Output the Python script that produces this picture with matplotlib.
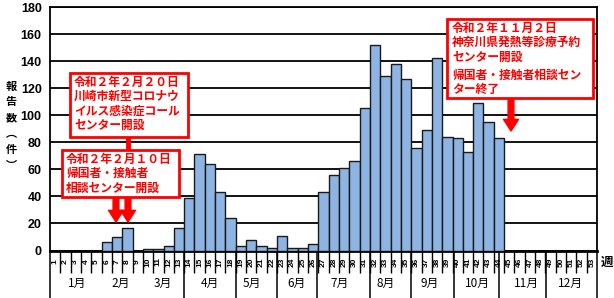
import matplotlib
matplotlib.use("Agg")
import matplotlib.pyplot as plt
from matplotlib.patches import Rectangle
import matplotlib.transforms as mtransforms

# ---------------- data ----------------
weeks = list(range(1, 54))
counts = [0, 0, 0, 0, 0, 6, 10, 17, 0, 1,
          1, 3, 17, 39, 71, 64, 43, 24, 3, 8,
          3, 2, 11, 2, 2, 5, 43, 56, 61, 66,
          105, 152, 129, 138, 127, 76, 89, 142, 84, 83,
          73, 109, 95, 83, 0, 0, 0, 0, 0, 0,
          0, 0, 0]
month_labels = ["1月", "2月", "3月", "4月", "5月", "6月",
                "7月", "8月", "9月", "10月", "11月", "12月"]
month_label_pos = [3.1, 7.3, 11.4, 16.0, 20.1, 24.4, 28.6, 33.0, 37.3, 41.9, 46.7, 50.9]
month_bounds = [13.5, 18.5, 22.5, 26.4, 31.5, 35.5, 39.6, 44.0, 48.6]
yticks = [0, 20, 40, 60, 80, 100, 120, 140, 160, 180]

note1 = "令和２年２月２０日\n川崎市新型コロナウ\nイルス感染症コール\nセンター開設"
note2 = "令和２年２月１０日\n帰国者・接触者\n相談センター開設"
note3a = "令和２年１１月２日\n神奈川県発熱等診療予約\nセンター開設"
note3b = "帰国者・接触者相談セン\nター終了"
ylabel_chars = ["報", "告", "数", "︵", "件", "︶"]

CJK = ["Noto Sans CJK JP", "DejaVu Sans"]
NARROW = ["Liberation Sans Narrow", "Liberation Sans", "DejaVu Sans"]
RED = "#FF0000"

fig = plt.figure(figsize=(6.14, 2.98), dpi=100)
W, H = 614, 298
left, right, top, base = 50, 597, 7, 250.5
ax = fig.add_axes([left / W, (H - base) / H, (right - left) / W, (base - top) / H])

ax.bar(weeks, counts, width=1.0, color="#8DB4E2", edgecolor="#1a1a1a",
       linewidth=1.0, zorder=3)

ax.set_xlim(0.5, 53.5)
ax.set_ylim(0, 180)
ax.set_yticks(yticks)
ax.set_yticklabels([str(v) for v in yticks], family=NARROW, fontsize=9,
                   fontweight="bold")
ax.tick_params(axis="y", length=0, pad=6)
ax.yaxis.grid(True, color="black", linewidth=1.3, zorder=1)
ax.set_axisbelow(True)
for s in ["left", "right", "top"]:
    ax.spines[s].set_linewidth(1.3)
ax.spines["bottom"].set_linewidth(2.0)

# week boundaries as ticks extending down
ax.set_xticks([w + 0.5 for w in weeks[:-1]])
ax.set_xticklabels([])
ax.tick_params(axis="x", length=15.5, width=1.0, direction="out", color="black")

trans = mtransforms.blended_transform_factory(ax.transData, ax.transAxes)
axh = base - top
def ypix(py):
    return (base - py) / axh

for w in weeks:
    ax.text(w, ypix(262), str(w), transform=trans, rotation=90,
            ha="center", va="center", fontsize=6, family=NARROW,
            fontweight="bold", clip_on=False)

for lab, pos in zip(month_labels, month_label_pos):
    ax.text(pos, ypix(283), lab, transform=trans, ha="center", va="center",
            fontsize=8.5, family=CJK, clip_on=False)

for b in month_bounds + [0.5, 53.5]:
    ax.axvline(b, ymin=ypix(298), ymax=0, color="black", linewidth=1.1,
               clip_on=False)

ax.text(54.5, ypix(262), "週", transform=trans, ha="center", va="center",
        fontsize=9, family=CJK, fontweight="bold", clip_on=False)

fig.text(11 / W, 1 - 126 / H, "\n".join(ylabel_chars), ha="center",
         va="center", fontsize=8, family=CJK, fontweight="bold",
         linespacing=1.3)

# ---------------- annotations ----------------
def px2x(px):
    return (px - left) / ((right - left) / 53.0) + 0.5

def px2y(py):
    return (base - py) / (axh / 180.0)

def box(x0, y0, x1, y1):
    ax.add_patch(Rectangle((px2x(x0), px2y(y1)), px2x(x1) - px2x(x0),
                           px2y(y0) - px2y(y1), facecolor="white",
                           edgecolor=RED, linewidth=2, zorder=6))

def note(px, py, s):
    ax.text(px2x(px), px2y(py), s, ha="left", va="top", color=RED,
            fontsize=8.5, family=CJK, fontweight="bold", linespacing=1.12,
            zorder=7)

def arrow(px, py0, py1):
    ax.annotate("", xy=(px2x(px), px2y(py1)), xytext=(px2x(px), px2y(py0)),
                arrowprops=dict(arrowstyle="simple,head_length=0.7,head_width=0.9,tail_width=0.35",
                                color=RED, mutation_scale=12, shrinkA=0, shrinkB=0),
                zorder=5)

# connector between box1 and box2
ax.plot([px2x(128), px2x(128)], [px2y(137), px2y(150)], color=RED,
        linewidth=3.5, zorder=5, solid_capstyle="butt")
box(70, 73, 188, 137)
note(74, 76, note1)
box(62, 150, 179, 197)
note(66, 153, note2)
arrow(116, 197, 222)
arrow(128, 197, 222)

box(447, 19, 593, 98)
note(452, 22, note3a)
note(452, 69, note3b)
arrow(511, 98, 131)

fig.savefig("out.png", dpi=100, facecolor="white")
